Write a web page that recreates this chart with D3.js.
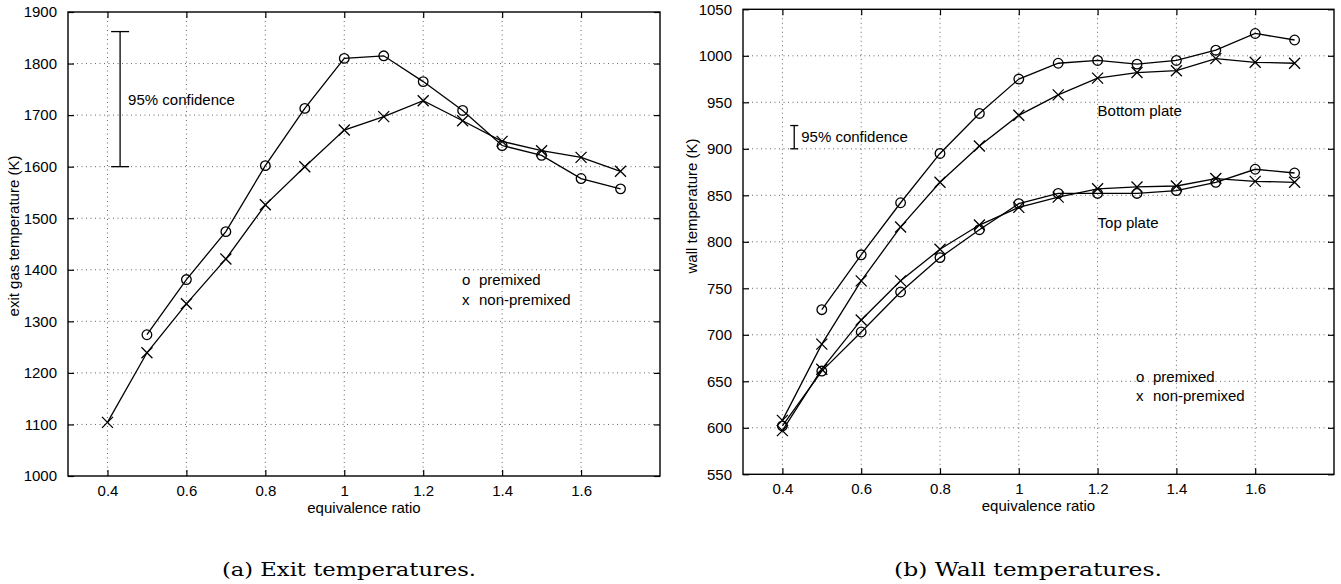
<!DOCTYPE html>
<html>
<head>
<meta charset="utf-8">
<script src="https://cdn.jsdelivr.net/npm/d3@7"></script>
<style>
  html, body { margin: 0; padding: 0; background: #fff; }
  svg { display: block; }
  text { font-family: "Liberation Sans", Arial, Helvetica, sans-serif; fill: #000; }
  .caption { font-family: "DejaVu Serif", "Liberation Serif", serif; }
</style>
</head>
<body>
<svg id="chart" width="1341" height="584"></svg>
<script>
// ---------- data ----------
const phi = [0.4, 0.5, 0.6, 0.7, 0.8, 0.9, 1.0, 1.1, 1.2, 1.3, 1.4, 1.5, 1.6, 1.7];

// (a) exit gas temperature (K)
const exitPremixed    = [null, 1274, 1381, 1474, 1602, 1713, 1810, 1815, 1765, 1709, 1641, 1622, 1577, 1557];
const exitNonPremixed = [1104, 1239, 1334, 1421, 1526, 1600, 1671, 1697, 1728, 1689, 1649, 1631, 1618, 1591];

// (b) wall temperature (K)
const bottomPremixed    = [null, 727, 786, 842, 895, 938, 975, 992, 995, 991, 995, 1006, 1024, 1017];
const bottomNonPremixed = [608, 690, 758, 816, 864, 903, 936, 958, 976, 982, 984, 997, 993, 992];
const topPremixed       = [602, 661, 703, 746, 783, 813, 841, 852, 852, 852, 855, 864, 878, 874];
const topNonPremixed    = [597, 663, 716, 758, 792, 818, 837, 848, 857, 859, 860, 868, 865, 864];

const xTicks = [0.4, 0.6, 0.8, 1.0, 1.2, 1.4, 1.6];
const yTicksExit = [1000, 1100, 1200, 1300, 1400, 1500, 1600, 1700, 1800, 1900];
const yTicksWall = [550, 600, 650, 700, 750, 800, 850, 900, 950, 1000, 1050];

const confExit = [1600, 1862];
const confWall = [900, 925];

const legendMarks = ["o", "x"];
const legendLabels = ["premixed", "non-premixed"];
const captions = ["(a) Exit temperatures.", "(b) Wall temperatures."];

// ---------- drawing ----------
const svg = d3.select("#chart");
const FS = 15;

function panel(cfg) {
  const g = svg.append("g");
  const x = d3.scaleLinear().domain([0.3, 1.8]).range([cfg.left, cfg.right]);
  const y = d3.scaleLinear().domain(cfg.yDomain).range([cfg.bottom, cfg.top]);

  // grid
  const grid = g.append("g").attr("stroke", "#555").attr("stroke-width", 0.9)
    .attr("stroke-dasharray", "1,3.5");
  grid.selectAll(".vg").data(xTicks).join("line")
    .attr("x1", d => x(d)).attr("x2", d => x(d))
    .attr("y1", cfg.top).attr("y2", cfg.bottom);
  grid.selectAll(".hg").data(cfg.yTicks.slice(1, -1)).join("line")
    .attr("x1", cfg.left).attr("x2", cfg.right)
    .attr("y1", d => y(d)).attr("y2", d => y(d));

  // axes (inward ticks, box)
  const tl = 6;
  const ax = g.append("g");
  const bottomAxis = d3.axisBottom(x).tickValues(xTicks).tickSizeInner(-tl).tickSizeOuter(0)
    .tickPadding(9).tickFormat(d3.format("~g"));
  ax.append("g").attr("class", "bx").attr("transform", `translate(0,${cfg.bottom})`).call(bottomAxis);
  const topAxis = d3.axisTop(x).tickValues(xTicks).tickSizeInner(-tl).tickSizeOuter(0).tickFormat("");
  ax.append("g").attr("transform", `translate(0,${cfg.top})`).call(topAxis);
  const leftAxis = d3.axisLeft(y).tickValues(cfg.yTicks).tickSizeInner(-tl).tickSizeOuter(0)
    .tickPadding(11).tickFormat(d3.format("d"));
  ax.append("g").attr("transform", `translate(${cfg.left},0)`).call(leftAxis);
  const rightAxis = d3.axisRight(y).tickValues(cfg.yTicks).tickSizeInner(-tl).tickSizeOuter(0).tickFormat("");
  ax.append("g").attr("transform", `translate(${cfg.right},0)`).call(rightAxis);
  ax.selectAll("g").attr("font-size", FS).attr("font-family", "Liberation Sans, Arial, sans-serif");
  ax.selectAll(".domain").remove();
  ax.selectAll(".tick line").attr("stroke", "#000").attr("stroke-width", 1.2);
  ax.selectAll("text").attr("fill", "#000");
  g.append("rect").attr("x", cfg.left).attr("y", cfg.top)
    .attr("width", cfg.right - cfg.left).attr("height", cfg.bottom - cfg.top)
    .attr("fill", "none").attr("stroke", "#000").attr("stroke-width", 1.4);

  // axis labels
  g.append("text").attr("x", (cfg.left + cfg.right) / 2).attr("y", cfg.bottom + 37)
    .attr("text-anchor", "middle").attr("font-size", FS).text("equivalence ratio");
  g.append("text").attr("transform", `translate(${cfg.ylabX},${cfg.ylabY}) rotate(-90)`)
    .attr("text-anchor", "middle").attr("font-size", FS).text(cfg.ylabel);

  // series
  const line = d3.line().x(d => x(d[0])).y(d => y(d[1]));
  cfg.series.forEach(s => {
    const pts = phi.map((p, i) => [p, s.values[i]]).filter(d => d[1] != null);
    g.append("path").datum(pts).attr("d", line).attr("fill", "none")
      .attr("stroke", "#000").attr("stroke-width", 1.3);
    const m = g.append("g").attr("stroke", "#000").attr("stroke-width", 1.3).attr("fill", "none");
    if (s.marker === "o") {
      m.selectAll("circle").data(pts).join("circle")
        .attr("cx", d => x(d[0])).attr("cy", d => y(d[1])).attr("r", 4.8);
    } else {
      const r = 5.5;
      m.selectAll("path").data(pts).join("path")
        .attr("d", d => {
          const cx = x(d[0]), cy = y(d[1]);
          return `M${cx - r},${cy - r}L${cx + r},${cy + r}M${cx - r},${cy + r}L${cx + r},${cy - r}`;
        });
    }
  });

  // confidence bar
  const cx = x(cfg.confX);
  const cg = g.append("g").attr("stroke", "#000").attr("stroke-width", 1.3);
  cg.append("line").attr("x1", cx).attr("x2", cx).attr("y1", y(cfg.conf[0])).attr("y2", y(cfg.conf[1]));
  [cfg.conf[0], cfg.conf[1]].forEach(v => {
    cg.append("line").attr("x1", cx - cfg.capW).attr("x2", cx + cfg.capW)
      .attr("y1", y(v)).attr("y2", y(v));
  });
  g.append("text").attr("x", cx + cfg.confTextDx).attr("y", y(cfg.confTextY))
    .attr("dy", "0.35em").attr("font-size", FS).text("95% confidence");

  // annotations
  (cfg.notes || []).forEach(n => {
    g.append("text").attr("x", x(n.x)).attr("y", y(n.y)).attr("dy", "0.35em")
      .attr("font-size", FS).text(n.t);
  });

  // legend
  legendLabels.forEach((t, i) => {
    const ty = cfg.legY + i * cfg.legDy;
    g.append("text").attr("x", cfg.legX).attr("y", ty).attr("dy", "0.35em")
      .attr("font-size", FS).text(legendMarks[i]);
    g.append("text").attr("x", cfg.legX + 17).attr("y", ty).attr("dy", "0.35em")
      .attr("font-size", FS).text(t);
  });

  // caption
  svg.append("text").attr("class", "caption").attr("x", cfg.capX).attr("y", 576)
    .attr("text-anchor", "middle").attr("font-size", 19)
    .attr("textLength", cfg.capLen).attr("lengthAdjust", "spacingAndGlyphs")
    .text(cfg.caption);
}

panel({
  left: 68, right: 660, top: 12, bottom: 476,
  yDomain: [1000, 1900], yTicks: yTicksExit,
  ylabel: "exit gas temperature (K)", ylabX: 19, ylabY: 236,
  series: [
    { values: exitPremixed, marker: "o" },
    { values: exitNonPremixed, marker: "x" }
  ],
  confX: 0.432, conf: confExit, capW: 9, confTextDx: 8, confTextY: 1730,
  legX: 462, legY: 280, legDy: 20,
  caption: captions[0], capX: 349, capLen: 254
});

panel({
  left: 743, right: 1334, top: 9.3, bottom: 474.3,
  yDomain: [550, 1050], yTicks: yTicksWall,
  ylabel: "wall temperature (K)", ylabX: 697, ylabY: 206,
  series: [
    { values: bottomPremixed, marker: "o" },
    { values: bottomNonPremixed, marker: "x" },
    { values: topPremixed, marker: "o" },
    { values: topNonPremixed, marker: "x" }
  ],
  confX: 0.43, conf: confWall, capW: 4, confTextDx: 7, confTextY: 913,
  notes: [ { x: 1.2, y: 941, t: "Bottom plate" }, { x: 1.2, y: 820, t: "Top plate" } ],
  legX: 1136, legY: 377, legDy: 19,
  caption: captions[1], capX: 1028, capLen: 268
});
</script>
</body>
</html>
